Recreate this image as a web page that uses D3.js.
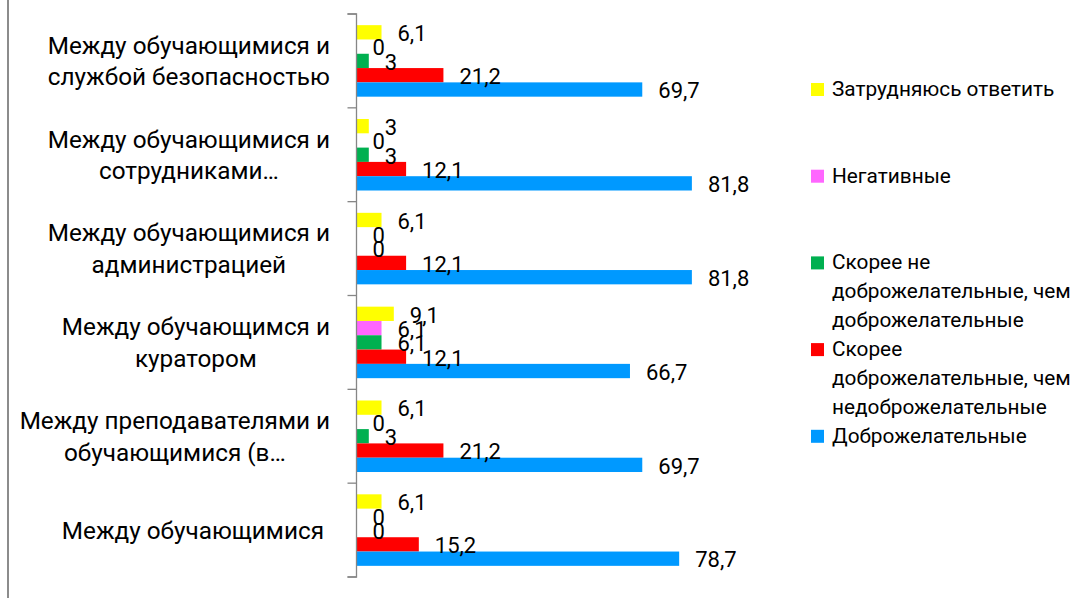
<!DOCTYPE html>
<html><head><meta charset="utf-8">
<script src="https://cdn.jsdelivr.net/npm/d3@7"></script>
<style>html,body{margin:0;padding:0;background:#fff}svg{display:block}</style>
</head><body>
<svg id="c" width="1086" height="599"></svg>
<script>
// ---- data ----
const categories = [
  "Между обучающимися и службой безопасностью",
  "Между обучающимися и сотрудниками…",
  "Между обучающимися и администрацией",
  "Между обучающимся и куратором",
  "Между преподавателями и обучающимися (в…",
  "Между обучающимися"
];
const categoryLines = [
  ["Между обучающимися и", "службой безопасностью"],
  ["Между обучающимися и", "сотрудниками…"],
  ["Между обучающимися и", "администрацией"],
  ["Между обучающимся и", "куратором"],
  ["Между преподавателями и", "обучающимися (в…"],
  ["Между обучающимися "]
];
const seriesNames = [
  "Затрудняюсь ответить",
  "Негативные",
  "Скорее не доброжелательные, чем доброжелательные",
  "Скорее доброжелательные, чем недоброжелательные",
  "Доброжелательные"
];
const legendLines = [
  ["Затрудняюсь ответить"],
  ["Негативные"],
  ["Скорее не", "доброжелательные, чем", "доброжелательные"],
  ["Скорее", "доброжелательные, чем", "недоброжелательные"],
  ["Доброжелательные"]
];
const seriesColors = ["#FFFF00", "#FF66FF", "#00B050", "#FF0000", "#0099FF"];
const difficult        = [6.1, 3, 6.1, 9.1, 6.1, 6.1];
const negative         = [0, 0, 0, 6.1, 0, 0];
const ratherUnfriendly = [3, 3, 0, 6.1, 3, 0];
const ratherFriendly   = [21.2, 12.1, 12.1, 12.1, 21.2, 15.2];
const friendly         = [69.7, 81.8, 81.8, 66.7, 69.7, 78.7];
const seriesValues = [difficult, negative, ratherUnfriendly, ratherFriendly, friendly];

// ---- layout ----
const FONT = "Roboto, 'Open Sans', sans-serif";
const svg = d3.select("#c");
const x0 = 356.5;
const x = d3.scaleLinear().domain([0, 100]).range([x0, x0 + 410]);
const y = d3.scaleBand().domain(categories).range([14, 577]).paddingInner(0).paddingOuter(0);
const ys = d3.scaleBand().domain(seriesNames).range([0, y.bandwidth()]).paddingInner(0).paddingOuter(0.78);

// left border of chart area
svg.append("line").attr("x1", 8).attr("x2", 8).attr("y1", 0).attr("y2", 598)
  .attr("stroke", "#8c8c8c").attr("stroke-width", 2);

// bars
const fmt = v => String(v).replace(".", ",");
seriesNames.forEach((s, si) => {
  const g = svg.append("g");
  categories.forEach((c, ci) => {
    const v = seriesValues[si][ci];
    const yy = y(c) + ys(s);
    g.append("rect").attr("x", x(0)).attr("y", yy)
      .attr("width", x(v) - x(0)).attr("height", ys.bandwidth())
      .attr("fill", seriesColors[si]);
  });
});
// labels
seriesNames.forEach((s, si) => {
  categories.forEach((c, ci) => {
    const v = seriesValues[si][ci];
    const yc = y(c) + ys(s) + ys.bandwidth() / 2;
    svg.append("text").attr("x", x(v) + 16).attr("y", yc + 8.8)
      .attr("font-family", FONT).attr("font-size", 22).attr("fill", "#000")
      .text(fmt(v));
  });
});

// axis
const axis = d3.axisLeft(y).tickSize(9).tickFormat("").tickSizeOuter(9);
const ag = svg.append("g").attr("transform", `translate(${x0},0)`).call(axis);
ag.selectAll("line,path").attr("stroke", "#868686").attr("stroke-width", 1.3);
ag.select(".domain").attr("d", `M-9,14H0V577H-9`);
// ticks at band boundaries
ag.selectAll(".tick").remove();
const bounds = categories.map(c => y(c)).concat([577]);
ag.selectAll(".bt").data(bounds).enter().append("line")
  .attr("x1", -9).attr("x2", 0).attr("y1", d => d).attr("y2", d => d)
  .attr("stroke", "#868686").attr("stroke-width", 1.3);

// category labels
const LH = 31.6, CAP = 17.4, RIGHT = 330;
categories.forEach((c, ci) => {
  const lines = categoryLines[ci];
  const cy = y(c) + y.bandwidth() / 2;
  const first = cy + CAP / 2 - (lines.length - 1) * LH / 2;
  const els = lines.map((l, li) => svg.append("text")
    .attr("y", first + li * LH).attr("font-family", FONT).attr("font-size", 24.3)
    .attr("text-anchor", "middle").style("white-space", "pre").attr("fill", "#000").text(l));
  const w = d3.max(els, e => e.node().getComputedTextLength());
  els.forEach(e => e.attr("x", RIGHT - w / 2));
});

// legend
const LEG_X = 811, LEG_TEXT_X = 832, LEG_Y0 = 96, LEG_STEP = 86.7, LEG_LH = 28.7;
seriesNames.forEach((s, si) => {
  const by = LEG_Y0 + si * LEG_STEP;
  svg.append("rect").attr("x", LEG_X).attr("y", by - 13).attr("width", 13).attr("height", 13)
    .attr("fill", seriesColors[si]);
  legendLines[si].forEach((l, li) => {
    svg.append("text").attr("x", LEG_TEXT_X).attr("y", by + li * LEG_LH)
      .attr("font-family", FONT).attr("font-size", 20.8).attr("fill", "#000").text(l);
  });
});
</script>
</body></html>
